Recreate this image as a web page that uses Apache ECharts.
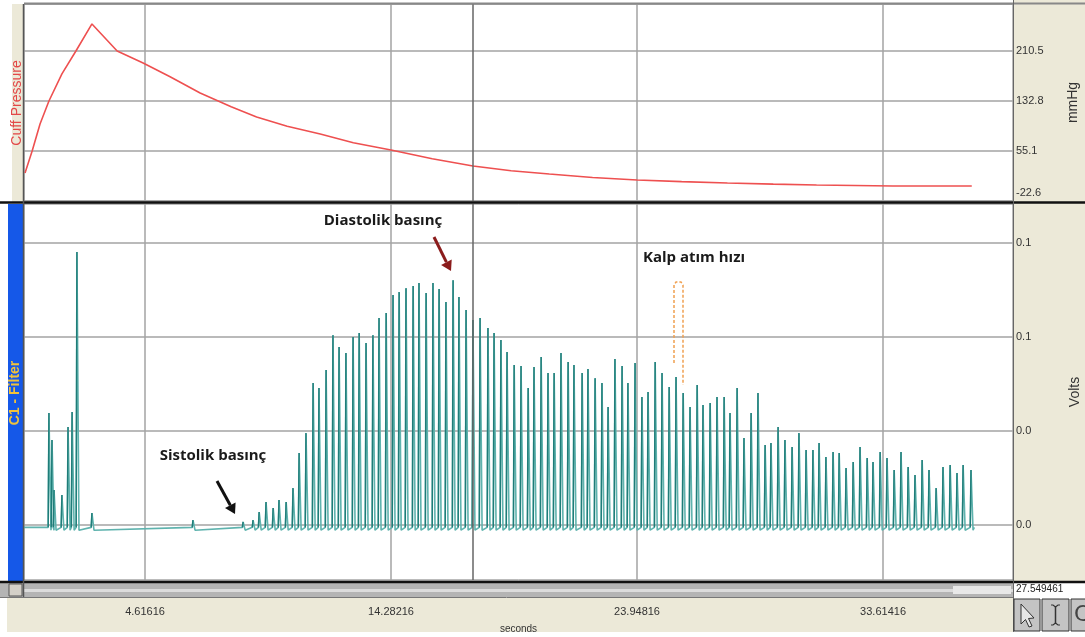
<!DOCTYPE html>
<html>
<head>
<meta charset="utf-8">
<title>Cuff Pressure / C1 - Filter</title>
<script src="https://cdn.jsdelivr.net/npm/echarts@6/dist/echarts.min.js"></script>
<style>
  html, body { margin: 0; padding: 0; background: #fff; }
  #chart { width: 1085px; height: 637px; }
</style>
</head>
<body>
<div id="chart"></div>
<script>
// x axis labels (seconds)
var secondTicks = [4.61616, 14.28216, 23.94816, 33.61416];
var cursorTime = 17.50;

// cuff pressure, mmHg
var cuffTime = [-0.10, 0.18, 0.49, 0.84, 1.35, 1.90, 2.53, 3.52, 4.54, 5.60, 6.78, 8.00, 9.00, 10.20,
  11.50, 12.80, 14.28, 15.90, 17.50, 19.00, 20.50, 22.20, 23.95, 25.70, 27.50, 29.30, 31.00, 34.00, 37.10];
var cuffValue = [20.9, 55.1, 97.0, 132.8, 174.8, 210.5, 252.5, 210.5, 191.9, 170.5, 145.2, 124.0, 107.9, 93.5,
  81.5, 68.0, 56.7, 43.0, 31.8, 24.5, 19.4, 14.0, 10.0, 7.5, 5.4, 3.6, 2.3, 0.7, 0.7];

// artefacts at the start of the filtered signal
var artifactTime = [0.84, 0.96, 1.04, 1.35, 1.59, 1.75, 1.94, 2.53, 6.50, 8.47];
var artifactPeak = [0.0477, 0.0362, 0.0149, 0.0128, 0.0417, 0.0481, 0.1162, 0.0051, 0.0021, 0.0013];

// pulse peaks, Volts
var beatTime = [8.86, 9.10, 9.37, 9.65, 9.88, 10.16, 10.43, 10.67, 10.94, 11.22, 11.45, 11.73, 12.00, 12.24,
  12.51, 12.79, 13.03, 13.30, 13.57, 13.81, 14.09, 14.36, 14.60, 14.87, 15.15, 15.38, 15.66, 15.93, 16.17,
  16.44, 16.72, 16.95, 17.23, 17.50, 17.78, 18.09, 18.33, 18.60, 18.84, 19.12, 19.39, 19.67, 19.90, 20.18,
  20.45, 20.69, 20.96, 21.24, 21.47, 21.79, 22.02, 22.30, 22.57, 22.81, 23.08, 23.36, 23.59, 23.87, 24.14,
  24.38, 24.66, 24.93, 25.21, 25.48, 25.76, 26.03, 26.31, 26.54, 26.82, 27.09, 27.37, 27.60, 27.88, 28.15,
  28.43, 28.70, 28.98, 29.21, 29.49, 29.76, 30.04, 30.31, 30.59, 30.86, 31.10, 31.37, 31.65, 31.89, 32.16,
  32.44, 32.71, 32.99, 33.22, 33.50, 33.77, 34.05, 34.32, 34.60, 34.87, 35.15, 35.42, 35.70, 35.97, 36.25,
  36.52, 36.76, 37.07];
var beatPeak = [0.0021, 0.0055, 0.0098, 0.0072, 0.0106, 0.0098, 0.0157, 0.0306, 0.0391, 0.0604, 0.0583, 0.0660,
  0.0808, 0.0757, 0.0732, 0.0800, 0.0817, 0.0774, 0.0808, 0.0881, 0.0902, 0.0979, 0.0991, 0.1008, 0.1017,
  0.1030, 0.0987, 0.1030, 0.1004, 0.0949, 0.1042, 0.0970, 0.0915, 0.0872, 0.0881, 0.0838, 0.0817, 0.0787,
  0.0736, 0.0681, 0.0677, 0.0583, 0.0672, 0.0715, 0.0647, 0.0647, 0.0732, 0.0694, 0.0681, 0.0647, 0.0664,
  0.0625, 0.0604, 0.0502, 0.0706, 0.0677, 0.0604, 0.0689, 0.0545, 0.0566, 0.0694, 0.0647, 0.0587, 0.0630,
  0.0562, 0.0502, 0.0596, 0.0511, 0.0519, 0.0545, 0.0545, 0.0477, 0.0583, 0.0370, 0.0477, 0.0562, 0.0340,
  0.0349, 0.0417, 0.0362, 0.0332, 0.0391, 0.0319, 0.0319, 0.0349, 0.0289, 0.0311, 0.0306, 0.0243, 0.0268,
  0.0332, 0.0285, 0.0268, 0.0311, 0.0285, 0.0234, 0.0311, 0.0247, 0.0213, 0.0277, 0.0234, 0.0157, 0.0247,
  0.0255, 0.0221, 0.0255, 0.0234];

var voltTicks = [0, 0.04, 0.08, 0.12];

var baseLevel = -0.001;

var cuffData = cuffTime.map(function (t, i) { return [t, cuffValue[i]]; });

// each peak drawn as a thin spike over the baseline;
// the rising edges go into a second, darker series
var signalData = [[-0.14, baseLevel]];
var riseData = [];
function addSpike(t, p) {
  signalData.push([t - 0.03, baseLevel], [t, p], [t + 0.08, baseLevel - 0.0012]);
  riseData.push([t - 0.03, baseLevel], [t, p], [t, '-']);
}
artifactTime.forEach(function (t, i) { addSpike(t, artifactPeak[i]); });
beatTime.forEach(function (t, i) { addSpike(t, beatPeak[i]); });
signalData.push([37.2, baseLevel]);

var labelFont = 'Liberation Sans';
var gridLine = { show: true, lineStyle: { color: '#a3a3a3', width: 1.5 } };
var cursorLine = {
  silent: true,
  symbol: 'none',
  label: { show: false },
  lineStyle: { color: '#666', width: 1.5, type: 'solid' },
  data: [{ xAxis: cursorTime }]
};
var noteFont = 'bold 15px "Open Sans"';

var option = {
  animation: false,
  backgroundColor: '#fff',
  grid: [
    { left: 24, top: 4, width: 989, height: 197, outerBoundsMode: 'none', show: true, backgroundColor: '#fff', borderColor: '#777', borderWidth: 1 },
    { left: 24, top: 204, width: 989, height: 376, outerBoundsMode: 'none', show: true, backgroundColor: '#fff', borderColor: '#777', borderWidth: 1 }
  ],
  xAxis: [{
    gridIndex: 0,
    type: 'value',
    min: -0.14,
    max: 38.72,
    axisLine: { show: false },
    axisTick: { show: false, customValues: secondTicks },
    axisLabel: { show: false },
    splitLine: gridLine
  }, {
    gridIndex: 1,
    type: 'value',
    min: -0.14,
    max: 38.72,
    axisLine: { show: false },
    axisTick: { show: false, customValues: secondTicks },
    axisLabel: {
      customValues: secondTicks,
      formatter: function (v) { return v.toFixed(5); },
      margin: 26,
      color: '#333',
      fontSize: 11,
      fontFamily: labelFont
    },
    splitLine: gridLine,
    name: 'seconds',
    nameLocation: 'middle',
    nameGap: 44,
    nameTextStyle: { color: '#333', fontSize: 10, fontFamily: labelFont }
  }],
  yAxis: [{
    gridIndex: 0,
    type: 'value',
    position: 'right',
    min: -22.6,
    max: 283.5,
    interval: 77.7,
    axisLine: { show: false },
    axisTick: { show: false },
    axisLabel: {
      showMaxLabel: false,
      margin: 3,
      color: '#333',
      fontSize: 11,
      fontFamily: labelFont,
      formatter: function (v) {
        var s = v.toFixed(1);
        return v < -20 ? '{lo|' + s + '}' : s;
      },
      rich: { lo: { padding: [0, 0, 16, 0], color: '#333', fontSize: 11, fontFamily: labelFont } }
    },
    splitLine: gridLine,
    name: 'mmHg',
    nameLocation: 'middle',
    nameGap: 53,
    nameRotate: 90,
    nameTextStyle: { color: '#333', fontSize: 14, fontFamily: labelFont }
  }, {
    gridIndex: 1,
    type: 'value',
    position: 'right',
    min: -0.0234,
    max: 0.1366,
    axisLine: { show: false },
    axisTick: { show: false, customValues: voltTicks },
    axisLabel: {
      customValues: voltTicks,
      margin: 3,
      color: '#333',
      fontSize: 11,
      fontFamily: labelFont,
      formatter: function (v) { return v.toFixed(1); }
    },
    splitLine: gridLine,
    name: 'Volts',
    nameLocation: 'middle',
    nameGap: 55,
    nameRotate: 90,
    nameTextStyle: { color: '#333', fontSize: 14, fontFamily: labelFont }
  }],
  series: [{
    name: 'Cuff Pressure',
    type: 'line',
    xAxisIndex: 0,
    yAxisIndex: 0,
    data: cuffData,
    showSymbol: false,
    lineStyle: { color: '#ee5050', width: 1.6 },
    markLine: cursorLine
  }, {
    name: 'C1 - Filter',
    type: 'line',
    xAxisIndex: 1,
    yAxisIndex: 1,
    data: signalData,
    showSymbol: false,
    lineStyle: { color: '#5fb3ae', width: 1.6 },
    markLine: cursorLine
  }, {
    name: 'C1 - Filter rise',
    type: 'line',
    xAxisIndex: 1,
    yAxisIndex: 1,
    data: riseData,
    showSymbol: false,
    connectNulls: false,
    lineStyle: { color: '#1f7c78', width: 1.4 }
  }],
  graphic: [
    // side panels
    { type: 'rect', z: -10, shape: { x: 1013, y: 0, width: 72, height: 582 }, style: { fill: '#ece9d8' } },
    { type: 'rect', z: -10, shape: { x: 12, y: 4, width: 11, height: 198 }, style: { fill: '#ece9d8' } },
    { type: 'rect', z: -10, shape: { x: 8, y: 204, width: 15, height: 377 }, style: { fill: '#1558e8' } },
    { type: 'rect', z: -10, shape: { x: 7, y: 598, width: 1006, height: 34 }, style: { fill: '#ece9d8' } },
    // scroll bar
    { type: 'rect', z: 50, shape: { x: 0, y: 583, width: 1013, height: 14 }, style: { fill: '#b4b4b4' } },
    { type: 'rect', z: 51, shape: { x: 24, y: 589, width: 989, height: 3 }, style: { fill: '#dcdcdc' } },
    { type: 'rect', z: 51, shape: { x: 953, y: 586, width: 58, height: 8 }, style: { fill: '#e8e8e8' } },
    { type: 'rect', z: 52, shape: { x: 9, y: 584, width: 13, height: 12 }, style: { fill: '#d4d0c8', stroke: '#555', lineWidth: 1 } },
    // frame lines
    { type: 'line', z: 60, shape: { x1: 24, y1: 3.5, x2: 1085, y2: 3.5 }, style: { stroke: '#888', lineWidth: 2 } },
    { type: 'line', z: 60, shape: { x1: 0, y1: 202.5, x2: 1085, y2: 202.5 }, style: { stroke: '#111', lineWidth: 2.5 } },
    { type: 'line', z: 60, shape: { x1: 0, y1: 582, x2: 1085, y2: 582 }, style: { stroke: '#111', lineWidth: 2.5 } },
    { type: 'line', z: 60, shape: { x1: 0, y1: 597.5, x2: 1013, y2: 597.5 }, style: { stroke: '#777', lineWidth: 1 } },
    { type: 'line', z: 60, shape: { x1: 1013.5, y1: 0, x2: 1013.5, y2: 632 }, style: { stroke: '#666', lineWidth: 1 } },
    { type: 'line', z: 60, shape: { x1: 23.5, y1: 4, x2: 23.5, y2: 597 }, style: { stroke: '#555', lineWidth: 1.5 } },
    { type: 'text', z: 61, x: 1016, y: 589, style: { text: '27.549461', fill: '#222', font: '10px "Liberation Sans"', verticalAlign: 'middle' } },
    // toolbar
    { type: 'rect', z: 61, shape: { x: 1014, y: 599, width: 26, height: 32 }, style: { fill: '#c4c4c4', stroke: '#333', lineWidth: 1 } },
    { type: 'rect', z: 61, shape: { x: 1042, y: 599, width: 27, height: 32 }, style: { fill: '#c4c4c4', stroke: '#333', lineWidth: 1 } },
    { type: 'rect', z: 61, shape: { x: 1071, y: 599, width: 16, height: 32 }, style: { fill: '#c4c4c4', stroke: '#333', lineWidth: 1 } },
    { type: 'polygon', z: 62, shape: { points: [[1021, 604], [1021, 624], [1025.5, 619.5], [1029, 627], [1032, 626], [1028.5, 618.5], [1034, 618]] }, style: { fill: '#e6e6e6', stroke: '#333', lineWidth: 1 } },
    { type: 'polyline', z: 62, shape: { points: [[1051, 605], [1053, 605], [1055.5, 607], [1058, 605], [1060, 605]] }, style: { stroke: '#333', lineWidth: 1.2, fill: null } },
    { type: 'line', z: 62, shape: { x1: 1055.5, y1: 607, x2: 1055.5, y2: 623 }, style: { stroke: '#333', lineWidth: 1.5 } },
    { type: 'polyline', z: 62, shape: { points: [[1051, 625], [1053, 625], [1055.5, 623], [1058, 625], [1060, 625]] }, style: { stroke: '#333', lineWidth: 1.2, fill: null } },
    { type: 'text', z: 62, x: 1074, y: 615, style: { text: 'C', fill: '#444', font: '22px "DejaVu Sans"', verticalAlign: 'middle' } },
    // channel titles
    { type: 'text', z: 61, x: 17.5, y: 103, rotation: Math.PI / 2, style: { text: 'Cuff Pressure', fill: '#e34848', font: '14px "Liberation Sans"', align: 'center', verticalAlign: 'middle' } },
    { type: 'text', z: 61, x: 15.5, y: 393, rotation: Math.PI / 2, style: { text: 'C1 - Filter', fill: '#f0c23c', font: 'bold 14px "Liberation Sans"', align: 'center', verticalAlign: 'middle' } },
    // notes
    { type: 'text', z: 70, x: 383, y: 221, style: { text: 'Diastolik basınç', fill: '#1a1a1a', font: noteFont, align: 'center', verticalAlign: 'middle' } },
    { type: 'line', z: 70, shape: { x1: 434, y1: 237, x2: 446.4, y2: 262.1 }, style: { stroke: '#8b1c1c', lineWidth: 3 } },
    { type: 'polygon', z: 70, shape: { points: [[451, 271], [441.1, 264.9], [451.7, 259.4]] }, style: { fill: '#8b1c1c' } },
    { type: 'text', z: 70, x: 694, y: 258, style: { text: 'Kalp atım hızı', fill: '#1a1a1a', font: noteFont, align: 'center', verticalAlign: 'middle' } },
    { type: 'polyline', z: 70, shape: { points: [[674, 363], [674, 285], [676, 282], [681, 282], [683, 285], [683, 385]] }, style: { stroke: '#f0a050', lineWidth: 1.5, lineDash: [3, 2], fill: null } },
    { type: 'text', z: 70, x: 213, y: 456, style: { text: 'Sistolik basınç', fill: '#1a1a1a', font: noteFont, align: 'center', verticalAlign: 'middle' } },
    { type: 'line', z: 70, shape: { x1: 217, y1: 481, x2: 230.3, y2: 505.2 }, style: { stroke: '#111', lineWidth: 3 } },
    { type: 'polygon', z: 70, shape: { points: [[235, 514], [225, 508], [235.6, 502.4]] }, style: { fill: '#111' } }
  ]
};

var myChart = echarts.init(document.getElementById('chart'));
myChart.setOption(option);
window.addEventListener('resize', function () {
  myChart.resize();
});
</script>
</body>
</html>
